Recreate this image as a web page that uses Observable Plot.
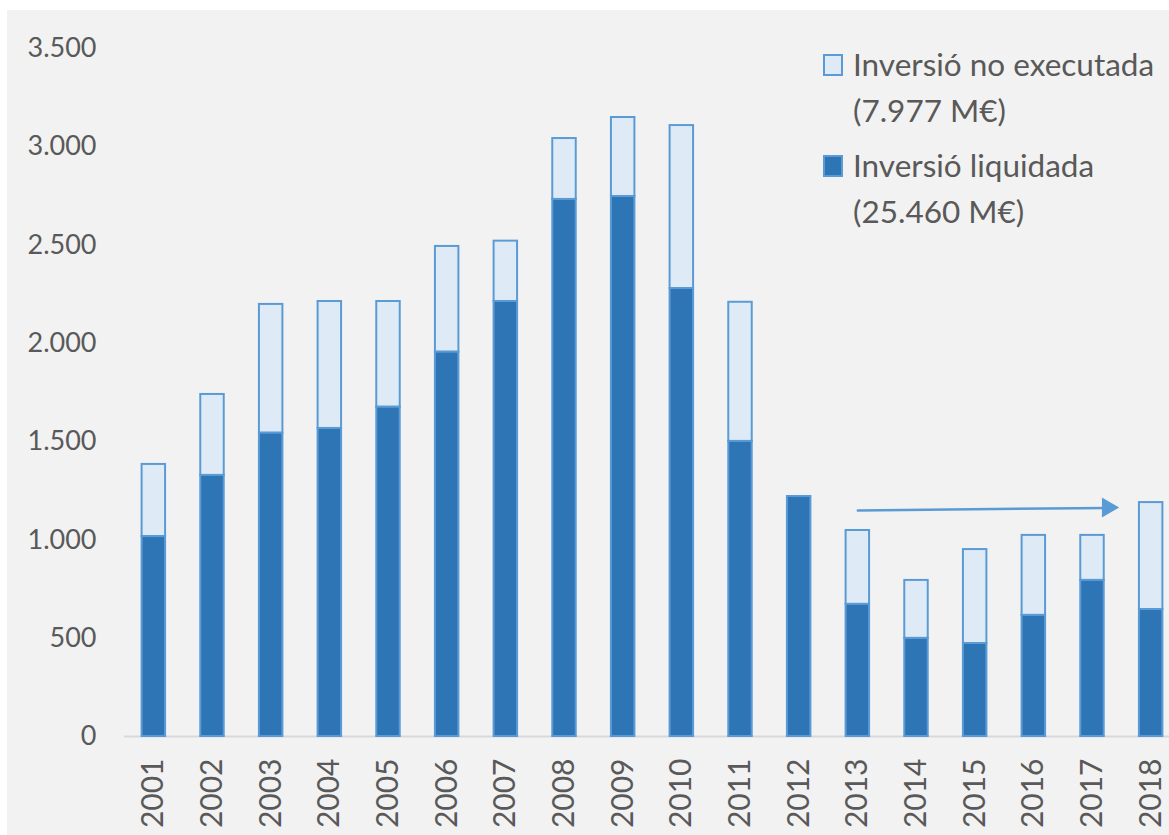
<!DOCTYPE html>
<html>
<head>
<meta charset="utf-8">
<script src="https://cdn.jsdelivr.net/npm/d3@7"></script>
<script src="https://cdn.jsdelivr.net/npm/@observablehq/plot@0.6"></script>
<style>
  html, body { margin: 0; padding: 0; background: #ffffff; width: 1169px; height: 835px; overflow: hidden; }
  #panel { position: absolute; left: 7px; top: 10px; width: 1162px; height: 825px; background: #f2f2f2; overflow: hidden; font-family: Lato, "Open Sans", sans-serif; }
  #chart { position: absolute; left: 0; top: 0; width: 1173px; }
  #chart svg { max-width: none !important; }
  .leg { position: absolute; left: 816px; color: #595959; font-size: 31.5px; line-height: 46px; }
  .leg .sw { position: absolute; left: 0; top: 13px; width: 16px; height: 18px; border: 2px solid #5b9bd5; }
  .leg .tx { position: absolute; left: 30px; top: 0; white-space: nowrap; }
</style>
</head>
<body>
<div id="panel">
  <div id="chart"></div>
  <div class="leg" style="top:31px"><div class="sw" style="background:#deebf7"></div><div class="tx">Inversió no executada<br>(7.977 M€)</div></div>
  <div class="leg" style="top:132px"><div class="sw" style="background:#2e75b6"></div><div class="tx">Inversió liquidada<br>(25.460 M€)</div></div>
</div>
<script>
const years = ["2001","2002","2003","2004","2005","2006","2007","2008","2009","2010","2011","2012","2013","2014","2015","2016","2017","2018"];
const liquidada = [1017,1328,1543,1567,1675,1955,2213,2732,2747,2279,1501,1221,672,499,473,616,794,646];
const total = [1384,1740,2198,2213,2213,2493,2520,3042,3149,3108,2209,1221,1048,794,951,1023,1023,1190];
const yTicks = [0,500,1000,1500,2000,2500,3000,3500];
const arrowFrom = {year: "2013", value: 1150};
const arrowTo = {year: "2018", value: 1165};

const rows = years.map((y, i) => ({year: y, liq: liquidada[i], tot: total[i]}));
const fmt = d => d3.format(",")(d).replace(/,/g, ".");

const plot = Plot.plot({
  width: 1173,
  height: 825,
  marginLeft: 117,
  marginRight: 0,
  marginTop: 38,
  marginBottom: 99,
  style: {background: "transparent", fontFamily: "Lato, 'Open Sans', sans-serif", color: "#595959", maxWidth: "none"},
  x: {domain: years, paddingInner: 0.6, paddingOuter: 0.3, round: false, label: null},
  y: {domain: [0, 3500], label: null},
  marks: [
    Plot.axisY({ticks: yTicks, tickFormat: fmt, tickSize: 0, tickPadding: 28, fontSize: 27, fill: "#595959"}),
    Plot.axisX({tickSize: 0, tickPadding: 22, tickRotate: -90, fontSize: 30, fill: "#595959"}),
    Plot.ruleY([0], {stroke: "#d9d9d9", strokeWidth: 2}),
    Plot.barY(rows.filter(d => d.tot > d.liq), {x: "year", y1: "liq", y2: "tot", fill: "#deebf7", stroke: "#5b9bd5", strokeWidth: 2}),
    Plot.barY(rows, {x: "year", y1: 0, y2: "liq", fill: "#2e75b6", stroke: "#5b9bd5", strokeWidth: 2}),
    Plot.arrow([{x1: arrowFrom.year, y1: arrowFrom.value, x2: arrowTo.year, y2: arrowTo.value}], {
      x1: "x1", y1: "y1", x2: "x2", y2: "y2", headLength: 0, insetEnd: 44, stroke: "#5b9bd5", strokeWidth: 2.5
    }),
    Plot.dot([arrowTo], {x: "year", y: "value", symbol: "triangle", r: 7.4, rotate: 90, fill: "#5b9bd5", stroke: "none", dx: -43.5})
  ]
});
document.getElementById("chart").appendChild(plot);
</script>
</body>
</html>
